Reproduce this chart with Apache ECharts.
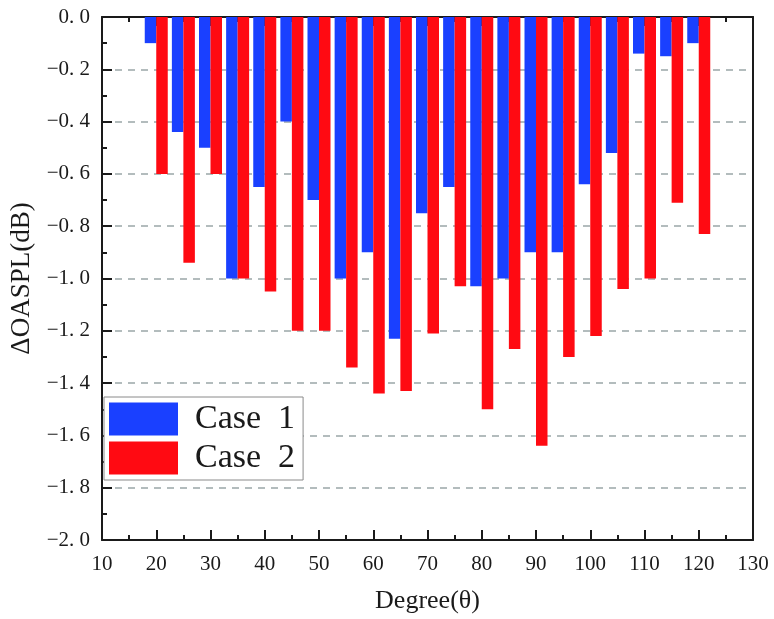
<!DOCTYPE html>
<html>
<head>
<meta charset="utf-8">
<script src="https://cdn.jsdelivr.net/npm/echarts@6/dist/echarts.min.js"></script>
<style>
  html, body { margin: 0; padding: 0; background: #fff; }
  #chart { width: 774px; height: 619px; }
</style>
</head>
<body>
<div id="chart"></div>
<script>
// Observation angles (degrees)
const degrees = [20, 25, 30, 35, 40, 45, 50, 55, 60, 65, 70, 75, 80, 85, 90, 95, 100, 105, 110, 115, 120];
// ΔOASPL (dB) for each case
const case1 = [-0.10, -0.44, -0.50, -1.00, -0.65, -0.40, -0.70, -1.00, -0.90, -1.23, -0.75,
               -0.65, -1.03, -1.00, -0.90, -0.90, -0.64, -0.52, -0.14, -0.15, -0.10];
const case2 = [-0.60, -0.94, -0.60, -1.00, -1.05, -1.20, -1.20, -1.34, -1.44, -1.43, -1.21,
               -1.03, -1.50, -1.27, -1.64, -1.30, -1.22, -1.04, -1.00, -0.71, -0.83];
const seriesNames = ['Case 1', 'Case 2'];
const xTicks = { min: 10, max: 130, interval: 10 };
const yTicks = { min: -2.0, max: 0.0, interval: 0.2 };

const SERIF = "'Liberation Serif', 'Times New Roman', serif";
const INK = '#1a1a1a';

function fmtY(v) {
  const s = Math.abs(v).toFixed(1).replace('.', '. ');
  return (v < -1e-9 ? '\u2212' : '') + s;
}

const chart = echarts.init(document.getElementById('chart'), null, { renderer: 'canvas' });

const axisLine = { show: true, onZero: false, lineStyle: { color: INK, width: 2 } };

chart.setOption({
  backgroundColor: '#fff',
  animation: false,
  grid: { left: 102, right: 21, top: 17, bottom: 77, containLabel: false },
  legend: {
    orient: 'vertical',
    left: 104,
    top: 397,
    padding: [5, 8, 5, 5],
    itemGap: 5,
    itemWidth: 69,
    itemHeight: 33,
    icon: 'rect',
    backgroundColor: '#fff',
    borderColor: '#8a8a8a',
    borderWidth: 1,
    borderRadius: 0,
    formatter: n => n.replace(' ', '\u2002'),
    textStyle: { fontFamily: SERIF, fontSize: 34, color: INK, padding: [0, 0, 0, 12] },
    data: seriesNames
  },
  xAxis: [
    {
      type: 'value',
      position: 'bottom',
      min: xTicks.min, max: xTicks.max, interval: xTicks.interval,
      name: 'Degree(\u03b8)',
      nameLocation: 'middle',
      nameGap: 48,
      nameTextStyle: { fontFamily: SERIF, fontSize: 26, color: INK },
      axisLine: axisLine,
      axisTick: { show: true, inside: true, length: 10, lineStyle: { color: INK, width: 2 } },
      minorTick: { show: true, splitNumber: 2, length: 5, lineStyle: { color: INK, width: 2 } },
      axisLabel: { fontFamily: SERIF, fontSize: 21, color: INK, margin: 14 },
      splitLine: { show: false }
    },
    {
      type: 'value',
      position: 'top',
      min: xTicks.min, max: xTicks.max, interval: xTicks.interval,
      axisLine: axisLine,
      axisTick: { show: true, inside: true, length: 9, lineStyle: { color: INK, width: 2 } },
      minorTick: { show: true, splitNumber: 2, length: 5, lineStyle: { color: INK, width: 2 } },
      axisLabel: { show: false },
      splitLine: { show: false }
    }
  ],
  yAxis: [
    {
      type: 'value',
      position: 'left',
      min: yTicks.min, max: yTicks.max, interval: yTicks.interval,
      name: '\u0394OASPL(dB)',
      nameLocation: 'middle',
      nameGap: 62,
      nameRotate: 90,
      nameTextStyle: { fontFamily: SERIF, fontSize: 27, color: INK },
      axisLine: axisLine,
      axisTick: { show: true, inside: true, length: 10, lineStyle: { color: INK, width: 2 } },
      minorTick: { show: true, splitNumber: 2, length: 5, lineStyle: { color: INK, width: 2 } },
      axisLabel: { fontFamily: SERIF, fontSize: 21, color: INK, margin: 12, formatter: fmtY },
      splitLine: {
        show: true,
        lineStyle: { color: '#9aa6a8', width: 1.5, type: [7, 6] }
      }
    },
    {
      type: 'value',
      position: 'right',
      min: yTicks.min, max: yTicks.max, interval: yTicks.interval,
      axisLine: axisLine,
      axisTick: { show: false },
      axisLabel: { show: false },
      splitLine: { show: false }
    }
  ],
  series: [
    {
      name: seriesNames[0],
      type: 'bar',
      xAxisIndex: 0,
      yAxisIndex: 0,
      barWidth: 11.5,
      barGap: '0%',
      itemStyle: { color: '#1a40ff' },
      data: degrees.map((d, i) => [d, case1[i]])
    },
    {
      name: seriesNames[1],
      type: 'bar',
      xAxisIndex: 0,
      yAxisIndex: 0,
      barWidth: 11.5,
      barGap: '0%',
      itemStyle: { color: '#ff0a12' },
      data: degrees.map((d, i) => [d, case2[i]])
    }
  ]
});
</script>
</body>
</html>
